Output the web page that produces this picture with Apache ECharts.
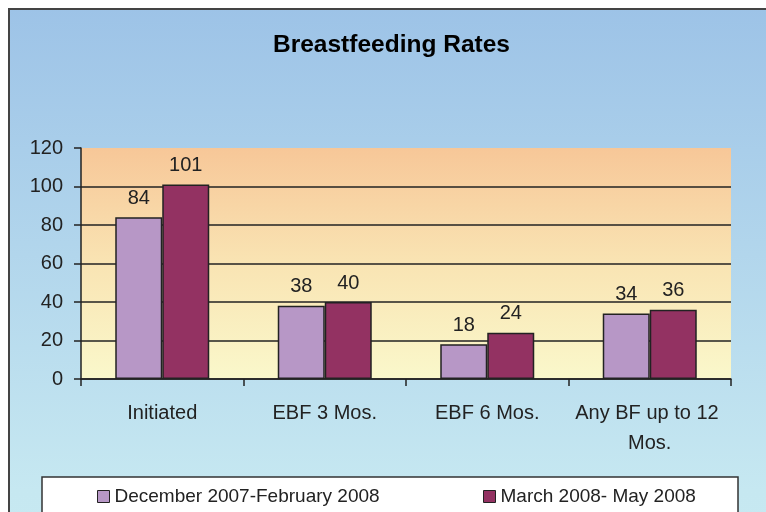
<!DOCTYPE html>
<html>
<head>
<meta charset="UTF-8">
<title>Breastfeeding Rates</title>
<script src="https://cdn.jsdelivr.net/npm/echarts@6/dist/echarts.min.js"></script>
<style>
  html, body { margin: 0; padding: 0; background: #fff; }
  #chart { width: 766px; height: 512px; }
</style>
</head>
<body>
<div id="chart"></div>
<script>
// data
var categories = ['Initiated', 'EBF 3 Mos.', 'EBF 6 Mos.', 'Any BF up to 12 Mos.'];
var seriesNames = ['December 2007-February 2008', 'March 2008- May 2008'];
var valuesDecFeb = [84, 38, 18, 34];
var valuesMarMay = [101, 40, 24, 36];
var seriesColors = ['#B797C6', '#933262'];

var FONT = "'Liberation Sans', Arial, sans-serif";
var chart = echarts.init(document.getElementById('chart'));

function barSeries(i, values) {
  return {
    name: seriesNames[i],
    type: 'bar',
    data: values,
    barWidth: 47,
    barGap: '0%',
    itemStyle: { color: seriesColors[i], borderColor: '#222', borderWidth: 1.5 },
    label: {
      show: true,
      position: 'top',
      distance: 9,
      color: '#222',
      fontFamily: FONT,
      fontSize: 20
    }
  };
}

function legendFor(i, left) {
  return {
    data: [seriesNames[i]],
    left: left,
    top: 487,
    padding: 0,
    icon: 'rect',
    itemWidth: 12,
    itemHeight: 12,
    itemStyle: { borderColor: '#222', borderWidth: 1 },
    textStyle: { fontFamily: FONT, fontSize: 19, color: '#222' }
  };
}

var option = {
  animation: false,
  backgroundColor: '#fff',
  graphic: [
    {
      type: 'rect',
      z: -10,
      shape: { x: 9, y: 9, width: 800, height: 600 },
      style: {
        fill: new echarts.graphic.LinearGradient(0, 0, 0, 1, [
          { offset: 0, color: '#9DC3E7' },
          { offset: 0.8, color: '#C6E8F1' },
          { offset: 1, color: '#C8EAF2' }
        ]),
        stroke: '#444',
        lineWidth: 2
      }
    },
    {
      type: 'rect',
      z: -5,
      shape: { x: 42, y: 477, width: 696, height: 60 },
      style: { fill: '#fff', stroke: '#333', lineWidth: 1.5 }
    }
  ],
  title: {
    text: 'Breastfeeding Rates',
    left: 273,
    top: 33,
    padding: 0,
    textStyle: { fontFamily: FONT, fontWeight: 'bold', fontSize: 24.5, color: '#000' }
  },
  legend: [legendFor(0, 97), legendFor(1, 483)],
  grid: {
    left: 81,
    right: 35,
    top: 148,
    bottom: 133,
    show: true,
    borderWidth: 0,
    backgroundColor: new echarts.graphic.LinearGradient(0, 0, 0, 1, [
      { offset: 0, color: '#F7C798' },
      { offset: 0.5, color: '#F9E4B3' },
      { offset: 1, color: '#FAF8CB' }
    ])
  },
  xAxis: {
    type: 'category',
    data: categories,
    axisLine: { lineStyle: { color: '#222', width: 1.5 } },
    axisTick: { show: true, length: 7, lineStyle: { color: '#222', width: 1.5 } },
    axisLabel: {
      margin: 19,
      color: '#222',
      fontFamily: FONT,
      fontSize: 20,
      lineHeight: 30,
      width: 155,
      overflow: 'break',
      interval: 0
    }
  },
  yAxis: {
    type: 'value',
    min: 0,
    max: 120,
    interval: 20,
    axisLine: { show: true, lineStyle: { color: '#222', width: 1.5 } },
    axisTick: { show: true, length: 7, lineStyle: { color: '#222', width: 1.5 } },
    axisLabel: { margin: 18, color: '#222', fontFamily: FONT, fontSize: 20 },
    splitLine: { show: true, showMaxLine: false, lineStyle: { color: '#222', width: 1.5 } }
  },
  series: [barSeries(0, valuesDecFeb), barSeries(1, valuesMarMay)]
};

chart.setOption(option);
</script>
</body>
</html>
